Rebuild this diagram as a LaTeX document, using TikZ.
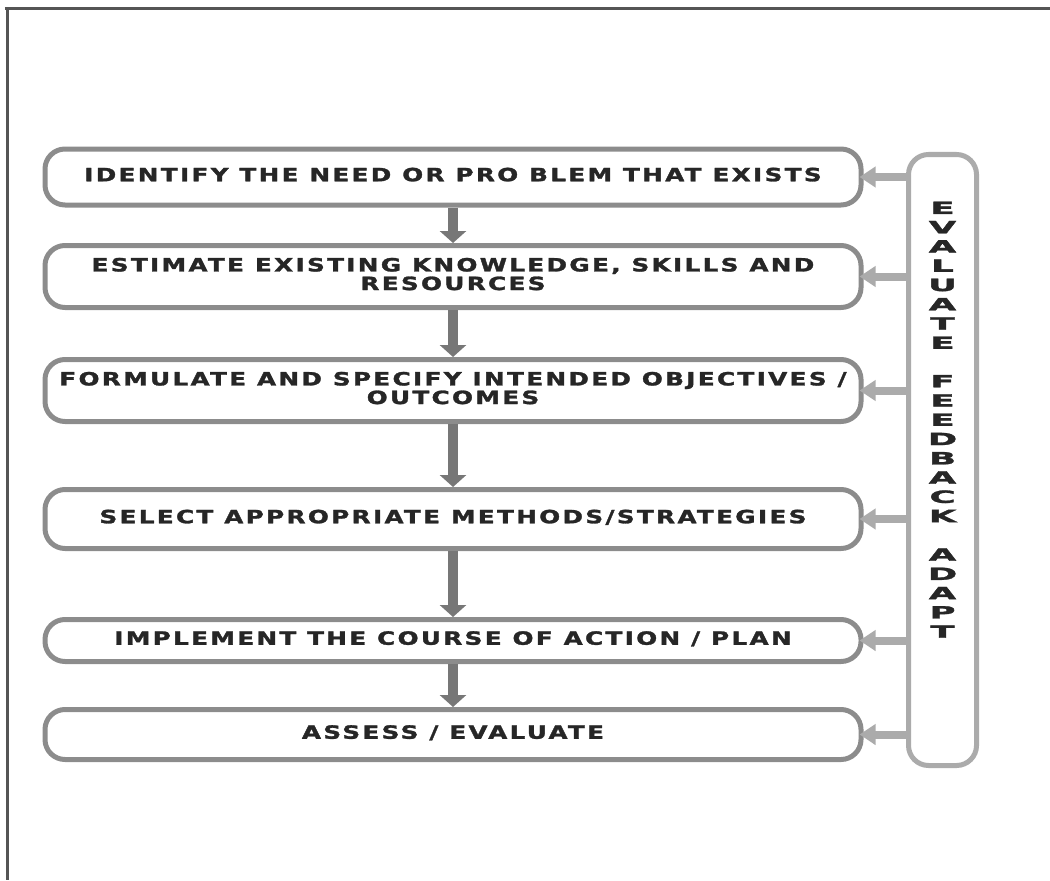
\documentclass[tikz,border=0pt]{standalone}
\usepackage{fontspec}
\usepackage{graphicx}
\usetikzlibrary{arrows.meta}
\newfontfamily\stepfont{DejaVu Sans Bold}[FakeBold=1.5,LetterSpace=9.5]
\newfontfamily\colfont{DejaVu Sans Bold}[FakeBold=1.5]
\newcommand\widetext[2]{\scalebox{#1}[1]{\begin{tabular}{@{}c@{}}#2\end{tabular}}}
\definecolor{boxgray}{HTML}{8C8C8C}
\definecolor{flowgray}{HTML}{777777}
\definecolor{backgray}{HTML}{ABABAB}
\definecolor{framegray}{HTML}{555555}
\definecolor{inkgray}{HTML}{262626}

\begin{document}
\begin{tikzpicture}[
    stepbox/.style={draw=boxgray, line width=0.125cm, rounded corners=0.5cm,
        minimum width=20.4cm, text=inkgray,
        font={\stepfont\fontsize{13}{12}\selectfont}},
    flow/.style={draw=flowgray, line width=0.25cm,
        -{Triangle[width=0.65cm, length=0.3cm]}},
    back/.style={draw=backgray, line width=0.2cm, shorten >=-0.1cm,
        -{Triangle[width=0.5cm, length=0.4cm]}}
]
    \useasboundingbox (0,0) rectangle (26.25,-22);

    % Draw frame
    \draw[framegray, line width=0.075cm] (0.12,-0.225) -- (26.25,-0.225);
    \draw[framegray, line width=0.075cm] (0.175,-0.225) -- (0.175,-22);

    % Draw steps
    \node[stepbox, minimum height=1.4cm]   (need)    at (11.325,-4.425)  {\widetext{1.35}{IDENTIFY THE NEED OR PRO BLEM THAT EXISTS}};
    \node[stepbox, minimum height=1.55cm]  (know)    at (11.325,-6.9125) {\widetext{1.35}{ESTIMATE EXISTING KNOWLEDGE, SKILLS AND\\RESOURCES}};
    \node[stepbox, minimum height=1.55cm]  (aims)    at (11.325,-9.7625) {\widetext{1.35}{FORMULATE AND SPECIFY INTENDED OBJECTIVES /\\OUTCOMES}};
    \node[stepbox, minimum height=1.475cm] (methods) at (11.325,-12.975) {\widetext{1.35}{SELECT APPROPRIATE METHODS/STRATEGIES}};
    \node[stepbox, minimum height=1.05cm]  (plan)    at (11.325,-16.0125) {\widetext{1.35}{IMPLEMENT THE COURSE OF ACTION / PLAN}};
    \node[stepbox, minimum height=1.25cm]  (assess)  at (11.325,-18.3625) {\widetext{1.35}{ASSESS / EVALUATE}};

    % Draw feedback column
    \node[draw=backgray, line width=0.125cm, rounded corners=0.5cm,
          minimum width=1.7cm, minimum height=15.275cm] (evalcol) at (23.5625,-11.5) {};
    \node[text=inkgray, font={\colfont\fontsize{12}{13.7}\selectfont}]
        (evaltxt) at (evalcol.north |- 0,-10.55)
        {\widetext{2.1}{E\\V\\A\\L\\U\\A\\T\\E\\[13.7pt]F\\E\\E\\D\\B\\A\\C\\K\\[13.7pt]A\\D\\A\\P\\T}};

    % Draw flow arrows
    \draw[flow] (need) -- (know);
    \draw[flow] (know) -- (aims);
    \draw[flow] (aims) -- (methods);
    \draw[flow] (methods) -- (plan);
    \draw[flow] (plan) -- (assess);

    % Draw feedback arrows
    \foreach \step in {need, know, aims, methods, plan, assess}
        \draw[back] (evalcol.west |- \step.east) -- (\step.east);
\end{tikzpicture}
\end{document}
